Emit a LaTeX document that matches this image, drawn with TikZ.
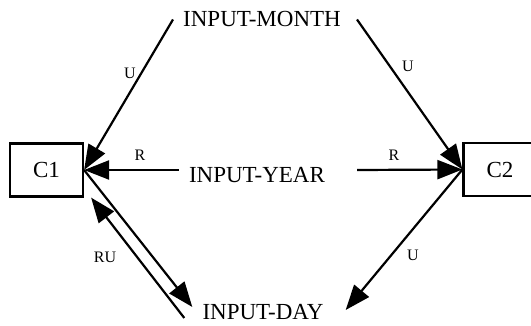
\documentclass[tikz,border=0pt]{standalone}
\usepackage{fontspec}
\setmainfont{Liberation Serif}
\usetikzlibrary{arrows.meta}

\begin{document}
\begin{tikzpicture}[x=1pt, y=-1pt,
    entity/.style={rectangle, draw=black, line width=2.2pt, minimum width=73pt, minimum height=53pt, inner sep=0pt, font=\fontsize{23}{26}\selectfont},
    field/.style={inner xsep=10pt, inner ysep=2pt, font=\fontsize{23}{26}\selectfont},
    tag/.style={inner sep=1pt, font=\fontsize{16}{18}\selectfont},
    arrow/.style={line width=2.2pt, -{Triangle[length=25pt, width=19pt]}}
]
    \useasboundingbox (0,0) rectangle (531,326);

    % Entity boxes
    \node[entity] (c1) at (46.5, 170) {C1};
    \node[entity] (c2) at (500, 169.5) {C2};

    % Input fields
    \node[field] (month) at (262, 19.5) {INPUT-MONTH};
    \node[field] (year)  at (257, 175)  {INPUT-YEAR};
    \node[field] (day)   at (263, 312)  {INPUT-DAY};

    % Connectors into C1 and C2
    \draw[arrow] (month.west) -- (c1.east);
    \draw[arrow] ([xshift=6pt]month.east) -- (c2.west);
    \draw[arrow] ([yshift=5pt]year.west) -- (c1.east);
    \draw[arrow] ([xshift=22pt, yshift=5pt]year.east) -- (c2.west);

    % Connectors to and from INPUT-DAY
    \draw[arrow] (c1.east) -- ([yshift=5pt]day.west);
    \draw[arrow] ([xshift=-8pt, yshift=-6pt]day.west) -- ([xshift=7pt]c1.south east);
    \draw[arrow] (c2.west) -- ([xshift=12pt, yshift=2pt]day.east);

    % Connector labels
    \node[tag] (u_month1) at (130, 73)  {U};
    \node[tag] (u_month2) at (408, 66)  {U};
    \node[tag] (r_year1)  at (140, 155) {R};
    \node[tag] (r_year2)  at (394, 155) {R};
    \node[tag] (ru_day)   at (105, 257) {RU};
    \node[tag] (u_day)    at (413, 255) {U};

\end{tikzpicture}
\end{document}
